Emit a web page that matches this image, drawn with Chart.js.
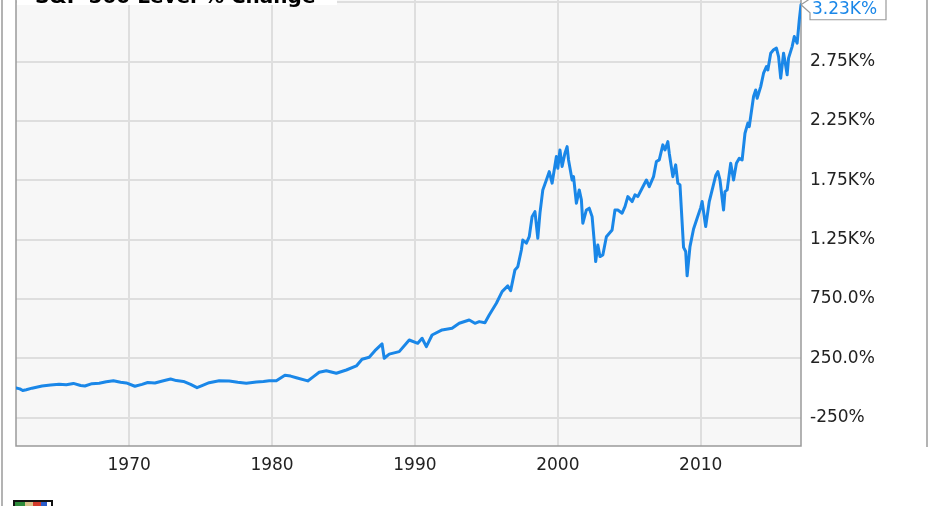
<!DOCTYPE html>
<html>
<head>
<meta charset="utf-8">
<script src="https://cdn.jsdelivr.net/npm/chart.js@4.4.1/dist/chart.umd.min.js"></script>
<style>
  html, body { margin: 0; padding: 0; background: #fff; overflow: hidden; }
  canvas { display: block; }
</style>
</head>
<body>
<canvas id="spxChart" width="931" height="506"></canvas>
<script>
// S&P 500 level, % change since early 1962
const years = [
  1962.08, 1962.35, 1962.55, 1962.8, 1963.2, 1963.9, 1964.5, 1965.1, 1965.6, 1966.1,
  1966.6, 1966.9, 1967.4, 1967.9, 1968.4, 1968.9, 1969.4, 1969.8, 1970.4, 1970.9,
  1971.3, 1971.8, 1972.4, 1972.9, 1973.3, 1973.8, 1974.3, 1974.75, 1975.1, 1975.6,
  1976.3, 1977.0, 1977.6, 1978.2, 1978.9, 1979.4, 1979.8, 1980.3, 1980.9, 1981.3,
  1981.7, 1982.5, 1982.9, 1983.3, 1983.8, 1984.5, 1985.2, 1985.9, 1986.3, 1986.8,
  1987.2, 1987.7, 1987.85, 1988.2, 1988.9, 1989.6, 1990.2, 1990.5, 1990.8, 1991.2,
  1991.9, 1992.6, 1993.1, 1993.8, 1994.2, 1994.5, 1994.9, 1995.2, 1995.7, 1996.1,
  1996.5, 1996.7, 1997.0, 1997.2, 1997.45, 1997.55, 1997.8, 1998.0, 1998.2, 1998.4,
  1998.6, 1998.75, 1998.95, 1999.2, 1999.4, 1999.6, 1999.9, 2000.0, 2000.15, 2000.3,
  2000.5, 2000.65, 2000.75, 2001.0, 2001.1, 2001.3, 2001.5, 2001.65, 2001.75, 2002.0,
  2002.2, 2002.4, 2002.55, 2002.65, 2002.8, 2002.95, 2003.15, 2003.4, 2003.8, 2004.0,
  2004.2, 2004.5, 2004.7, 2004.9, 2005.2, 2005.4, 2005.6, 2005.9, 2006.2, 2006.4,
  2006.7, 2006.9, 2007.1, 2007.35, 2007.5, 2007.7, 2007.8, 2008.05, 2008.25, 2008.4,
  2008.55, 2008.8, 2008.95, 2009.05, 2009.25, 2009.5, 2009.75, 2010.0, 2010.1, 2010.35,
  2010.6, 2011.05, 2011.2, 2011.35, 2011.6, 2011.7, 2011.85, 2012.1, 2012.3, 2012.5,
  2012.7, 2012.9, 2013.1, 2013.3, 2013.4, 2013.7, 2013.85, 2013.95, 2014.2, 2014.4,
  2014.6, 2014.7, 2014.9, 2015.1, 2015.3, 2015.45, 2015.6, 2015.8, 2015.9, 2016.05,
  2016.15, 2016.4, 2016.55, 2016.75, 2016.9, 2017.02
];
const pctChange = [
  0, -8, -22, -15, -2, 16, 25, 31, 27, 38,
  20, 16, 36, 40, 52, 61, 48, 42, 14, 30,
  46, 42, 60, 75, 62, 55, 30, 2, 20, 44,
  61, 59, 48, 39, 50, 55, 61, 61, 107, 100,
  86, 59, 95, 132, 145, 124, 151, 185, 242, 258,
  314, 371, 250, 285, 306, 404, 376, 419, 348, 446,
  489, 503, 545, 573, 545, 559, 550, 615, 714, 812,
  860, 820, 995, 1022, 1163, 1247, 1220, 1275, 1444, 1486,
  1262, 1473, 1669, 1753, 1823, 1726, 1950, 1852, 2006, 1866,
  1979, 2034, 1922, 1753, 1781, 1557, 1669, 1585, 1388, 1500,
  1515, 1444, 1233, 1065, 1205, 1107, 1121, 1275, 1332, 1500,
  1500, 1473, 1528, 1613, 1571, 1627, 1613, 1683, 1753, 1697,
  1781, 1908, 1922, 2049, 2006, 2076, 1979, 1781, 1880, 1726,
  1711, 1185, 1150, 945, 1191, 1340, 1430, 1520, 1571, 1360,
  1571, 1790, 1823, 1753, 1500, 1655, 1669, 1894, 1753, 1894,
  1936, 1922, 2147, 2232, 2203, 2456, 2512, 2442, 2540, 2653,
  2709, 2681, 2822, 2850, 2864, 2793, 2611, 2822, 2751, 2639,
  2780, 2877, 2962, 2906, 3103, 3230
];
const xTickYears = [1970, 1980, 1990, 2000, 2010];
const yTickValues = [-250, 250, 750, 1250, 1750, 2250, 2750, 3250];
const yTickLabels = ['-250%', '250.0%', '750.0%', '1.25K%', '1.75K%', '2.25K%', '2.75K%', '3.25K%'];

const lineBlue = '#1a87e8';
const labelFont = { family: 'DejaVu Sans', size: 17 };

const points = years.map((yr, i) => ({ x: yr, y: pctChange[i] }));

// plot background + border
const plotFrame = {
  id: 'plotFrame',
  beforeDraw(chart) {
    const { ctx, chartArea: a } = chart;
    ctx.save();
    ctx.fillStyle = '#f7f7f7';
    ctx.fillRect(a.left, a.top, a.right - a.left, a.bottom - a.top);
    ctx.restore();
  },
  beforeDatasetsDraw(chart) {
    const { ctx, chartArea: a } = chart;
    ctx.save();
    ctx.strokeStyle = '#9a9a9a';
    ctx.lineWidth = 1.5;
    ctx.beginPath();
    ctx.moveTo(a.left, a.top);
    ctx.lineTo(a.left, a.bottom);
    ctx.lineTo(a.right, a.bottom);
    ctx.lineTo(a.right, a.top);
    ctx.stroke();
    ctx.restore();
  },
  afterDraw(chart) {
    const { ctx } = chart;
    ctx.save();
    // outer frame
    ctx.strokeStyle = '#9a9a9a';
    ctx.lineWidth = 1.5;
    ctx.beginPath();
    ctx.moveTo(2, 0); ctx.lineTo(2, 506);
    ctx.moveTo(927, 0); ctx.lineTo(927, 447);
    ctx.stroke();

    // title, cropped at the top edge
    ctx.fillStyle = '#ffffff';
    ctx.fillRect(17, 0, 320, 5);
    ctx.fillStyle = '#000000';
    ctx.font = 'bold 20px "DejaVu Sans"';
    ctx.textBaseline = 'alphabetic';
    ctx.textAlign = 'left';
    ctx.fillText('S&P 500 Level % Change', 35, 3);

    // small logo at the bottom left
    ctx.fillStyle = '#111';
    ctx.fillRect(13, 500, 40, 8);
    ctx.fillStyle = '#2e8b3a'; ctx.fillRect(15, 502, 10, 6);
    ctx.fillStyle = '#d9c28a'; ctx.fillRect(25, 502, 8, 6);
    ctx.fillStyle = '#d23a2a'; ctx.fillRect(33, 502, 8, 6);
    ctx.fillStyle = '#2a5cc9'; ctx.fillRect(41, 502, 6, 6);
    ctx.fillStyle = '#ffffff'; ctx.fillRect(47, 502, 4, 6);
    ctx.restore();
  }
};

// last-value callout at the right edge
const lastValueTag = {
  id: 'lastValueTag',
  afterDraw(chart) {
    const { ctx, scales } = chart;
    const n = years.length - 1;
    const px = scales.x.getPixelForValue(years[n]);
    const py = scales.y.getPixelForValue(pctChange[n]);
    const left = px + 9, right = px + 85, bottom = py + 15;
    ctx.save();
    ctx.fillStyle = '#ffffff';
    ctx.beginPath();
    ctx.moveTo(px, py);
    ctx.lineTo(left, py - 6);
    ctx.lineTo(left, -2);
    ctx.lineTo(right, -2);
    ctx.lineTo(right, bottom);
    ctx.lineTo(left, bottom);
    ctx.lineTo(left, py + 8);
    ctx.closePath();
    ctx.fill();
    ctx.strokeStyle = '#9a9a9a';
    ctx.lineWidth = 1.2;
    ctx.stroke();
    ctx.fillStyle = lineBlue;
    ctx.font = '17px "DejaVu Sans"';
    ctx.textBaseline = 'alphabetic';
    ctx.textAlign = 'left';
    ctx.fillText((pctChange[n] / 1000).toFixed(2) + 'K%', left + 2, py + 9);
    ctx.restore();
  }
};

new Chart(document.getElementById('spxChart'), {
  type: 'line',
  data: {
    datasets: [{
      data: points,
      borderColor: lineBlue,
      borderWidth: 3,
      borderJoinStyle: 'round',
      borderCapStyle: 'round',
      pointRadius: 0,
      tension: 0,
      fill: false
    }]
  },
  options: {
    responsive: false,
    animation: false,
    devicePixelRatio: 1,
    layout: { padding: { left: 16, top: 0, right: 0, bottom: 0 } },
    plugins: {
      legend: { display: false },
      tooltip: { enabled: false },
      title: { display: false }
    },
    scales: {
      x: {
        type: 'linear',
        min: 1962.08,
        max: 2017.02,
        afterBuildTicks(scale) { scale.ticks = xTickYears.map(v => ({ value: v })); },
        afterFit(scale) { scale.height = 60; scale.paddingLeft = 0; scale.paddingRight = 0; },
        grid: { color: '#dedede', lineWidth: 2, drawTicks: false },
        border: { display: false },
        ticks: {
          padding: 9,
          color: '#222',
          font: labelFont,
          maxRotation: 0,
          autoSkip: false,
          callback: v => String(v)
        }
      },
      y: {
        type: 'linear',
        position: 'right',
        min: -489.5,
        max: 3270,
        afterBuildTicks(scale) { scale.ticks = yTickValues.map(v => ({ value: v })); },
        afterFit(scale) { scale.width = 130; scale.paddingTop = 0; scale.paddingBottom = 0; },
        grid: { color: '#dedede', lineWidth: 2, drawTicks: false },
        border: { display: false },
        ticks: {
          padding: 9,
          color: '#222',
          font: labelFont,
          autoSkip: false,
          callback: v => {
            const i = yTickValues.indexOf(v);
            return i >= 0 ? yTickLabels[i] : '';
          }
        }
      }
    }
  },
  plugins: [plotFrame, lastValueTag]
});
</script>
</body>
</html>
